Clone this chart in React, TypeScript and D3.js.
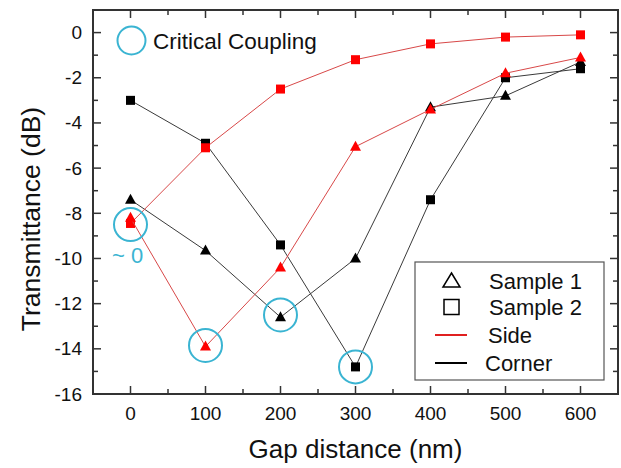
import React from "react";
import * as d3 from "d3";

const gaps = [0, 100, 200, 300, 400, 500, 600];
const sideSample1 = [-8.2, -13.9, -10.4, -5.05, -3.4, -1.8, -1.1];
const sideSample2 = [-8.45, -5.1, -2.5, -1.2, -0.5, -0.2, -0.1];
const cornerSample1 = [-7.4, -9.65, -12.6, -10.0, -3.3, -2.8, -1.3];
const cornerSample2 = [-3.0, -4.9, -9.4, -14.8, -7.4, -2.0, -1.6];
const criticalPoints: [number, number][] = [
  [0, -8.5],
  [100, -13.85],
  [200, -12.5],
  [300, -14.8],
];
const xTicks = [0, 100, 200, 300, 400, 500, 600];
const yTicks = [0, -2, -4, -6, -8, -10, -12, -14, -16];
const legendItems = ["Sample 1", "Sample 2", "Side", "Corner"];

const W = 621;
const H = 468;
const M = { left: 93, right: 618, top: 10, bottom: 394 };
const FONT = "'Liberation Sans', Arial, Helvetica, sans-serif";
const RED = "#ff0000";
const RED_LINE = "#d84848";
const BLACK_LINE = "#3a3a3a";
const CYAN = "#3ab4d2";
const AXIS = "#333333";

export default function App() {
  const x = d3.scaleLinear().domain([-50, 650]).range([M.left, M.right]);
  const y = d3.scaleLinear().domain([-16, 1]).range([M.bottom, M.top]);
  const line = d3
    .line<[number, number]>()
    .x((d) => x(d[0]))
    .y((d) => y(d[1]));
  const pts = (vals: number[]) => gaps.map((g, i) => [g, vals[i]] as [number, number]);

  const xMinor = d3.range(-50, 651, 50);
  const yMinor = d3.range(-16, 1.01, 1);
  const tickLen = (major: boolean) => (major ? 8 : 5);

  const square = (cx: number, cy: number, fill: string, key: string) => (
    <rect key={key} x={cx - 4.5} y={cy - 4.5} width={9} height={9} fill={fill} />
  );
  const tri = (cx: number, cy: number, fill: string, key: string) => (
    <path
      key={key}
      d={`M${cx},${cy - 6} L${cx + 5.5},${cy + 4} L${cx - 5.5},${cy + 4} Z`}
      fill={fill}
    />
  );

  const series = [
    { vals: cornerSample1, color: BLACK_LINE, fill: "#000", marker: tri },
    { vals: cornerSample2, color: BLACK_LINE, fill: "#000", marker: square },
    { vals: sideSample2, color: RED_LINE, fill: RED, marker: square },
    { vals: sideSample1, color: RED_LINE, fill: RED, marker: tri },
  ];

  const lgX = 415, lgY = 262, lgW = 189, lgH = 118;
  const rowY = [281, 307, 335, 363];

  return (
    <svg
      width={W}
      height={H}
      style={{ position: "absolute", left: 0, top: 0, background: "#fff" }}
      fontFamily={FONT}
    >
      <rect width={W} height={H} fill="#fff" />
      {/* series */}
      {series.map((s, si) => (
        <g key={si}>
          <path d={line(pts(s.vals)) || ""} fill="none" stroke={s.color} strokeWidth={1} />
          {pts(s.vals).map((p, i) => s.marker(x(p[0]), y(p[1]), s.fill, `m${si}-${i}`))}
        </g>
      ))}
      {/* critical coupling circles */}
      {criticalPoints.map((p, i) => (
        <circle key={i} cx={x(p[0])} cy={y(p[1])} r={16.5} fill="none" stroke={CYAN} strokeWidth={2} />
      ))}
      <circle cx={131.5} cy={40.5} r={14} fill="none" stroke={CYAN} strokeWidth={2} />
      <text x={153} y={49} fontSize={22.5} fill="#111">Critical Coupling</text>
      <text x={112} y={263} fontSize={22} fill={CYAN}>~ 0</text>

      {/* frame */}
      <rect
        x={M.left}
        y={M.top}
        width={M.right - M.left}
        height={M.bottom - M.top}
        fill="none"
        stroke={AXIS}
        strokeWidth={2}
      />
      {xMinor.map((v) => (
        <g key={`xt${v}`} stroke={AXIS} strokeWidth={1.5}>
          <line x1={x(v)} x2={x(v)} y1={M.bottom} y2={M.bottom - tickLen(v % 100 === 0)} />
          <line x1={x(v)} x2={x(v)} y1={M.top} y2={M.top + tickLen(v % 100 === 0)} />
        </g>
      ))}
      {yMinor.map((v) => (
        <g key={`yt${v}`} stroke={AXIS} strokeWidth={1.5}>
          <line x1={M.left} x2={M.left + tickLen(v % 2 === 0)} y1={y(v)} y2={y(v)} />
          <line x1={M.right} x2={M.right - tickLen(v % 2 === 0)} y1={y(v)} y2={y(v)} />
        </g>
      ))}
      {xTicks.map((v) => (
        <text key={`xl${v}`} x={x(v)} y={420} fontSize={19} textAnchor="middle" fill="#111">
          {v}
        </text>
      ))}
      {yTicks.map((v) => (
        <text key={`yl${v}`} x={82} y={y(v) + 6.5} fontSize={19} textAnchor="end" fill="#111">
          {v}
        </text>
      ))}
      <text x={(M.left + M.right) / 2} y={458} fontSize={26} textAnchor="middle" fill="#111">
        Gap distance (nm)
      </text>
      <text
        transform={`translate(40, 219) rotate(-90)`}
        fontSize={26.5}
        textAnchor="middle"
        fill="#111"
      >
        Transmittance (dB)
      </text>

      {/* legend */}
      <rect x={lgX} y={lgY} width={lgW} height={lgH} fill="#fff" stroke="#555" strokeWidth={1.2} />
      <path
        d={`M${451.5},${rowY[0] - 8} L${460},${rowY[0] + 6} L${443},${rowY[0] + 6} Z`}
        fill="none"
        stroke="#000"
        strokeWidth={1.5}
      />
      <rect x={444} y={rowY[1] - 7.5} width={15} height={15} fill="none" stroke="#000" strokeWidth={1.5} />
      <line x1={435} x2={467} y1={rowY[2]} y2={rowY[2]} stroke="#e02020" strokeWidth={2} />
      <line x1={435} x2={467} y1={rowY[3]} y2={rowY[3]} stroke="#000" strokeWidth={2} />
      {legendItems.map((t, i) => (
        <text key={t} x={i < 2 ? 489 : i === 2 ? 488 : 485} y={rowY[i] + 8} fontSize={22} fill="#111">
          {t}
        </text>
      ))}
    </svg>
  );
}
